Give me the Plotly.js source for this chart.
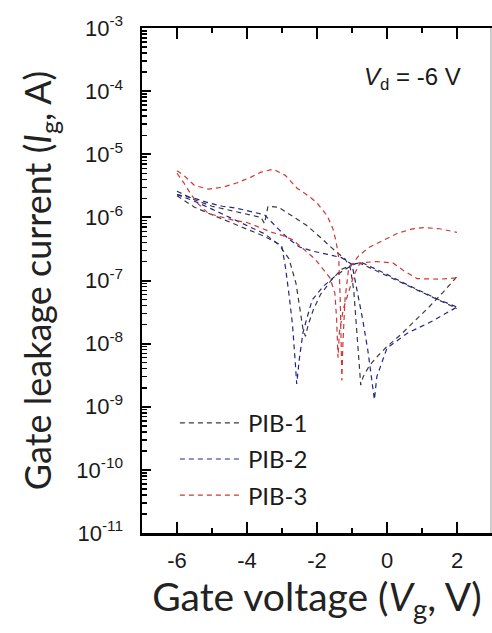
<!DOCTYPE html>
<html>
<head>
<meta charset="utf-8">
<script src="https://cdn.plot.ly/plotly-3.0.1.min.js"></script>
<style>html,body{margin:0;padding:0;background:#fff;}#chart{width:492px;height:633px;}</style>
</head>
<body>
<div id="chart"></div>
<script>
// ---- Data ----
const seriesNames = ["PIB-1", "PIB-2", "PIB-3"];

// PIB-1, sweep A (upper, dip near -0.75 V)
const vgPib1A = [-6, -5.5, -5, -4.5, -4, -3.6, -3.5, -3.4, -3.1, -2.7, -2.3, -1.9, -1.5, -1.2, -1.05, -0.95, -0.88, -0.8, -0.75, -0.68, -0.5, -0.25, 0, 0.4, 0.8, 1.2, 1.6, 2];
const igPib1A = [2.6e-6, 1.9e-6, 1.5e-6, 1.3e-6, 1.15e-6, 1.0e-6, 8e-7, 1.5e-6, 1.45e-6, 1.05e-6, 7.5e-7, 4.8e-7, 3e-7, 2.2e-7, 1.6e-7, 7e-8, 2e-8, 4e-9, 2.2e-9, 3e-9, 4.5e-9, 6.5e-9, 9e-9, 1.4e-8, 2.3e-8, 3.8e-8, 6.5e-8, 1.15e-7];
// PIB-1, sweep B (lower, dip near -2.33 V)
const vgPib1B = [-6, -5.5, -5, -4.5, -4, -3.5, -3.1, -2.8, -2.6, -2.5, -2.4, -2.33, -2.25, -2.1, -1.9, -1.6, -1.3, -1.0, -0.8, -0.5, 0, 0.5, 1, 1.5, 2];
const igPib1B = [2.2e-6, 1.45e-6, 1.1e-6, 8.5e-7, 6.5e-7, 5e-7, 3.8e-7, 2.2e-7, 9e-8, 4e-8, 1.7e-8, 1.3e-8, 2e-8, 3.5e-8, 6e-8, 1e-7, 1.5e-7, 1.8e-7, 1.9e-7, 1.6e-7, 1.2e-7, 8.8e-8, 6.5e-8, 4.8e-8, 3.6e-8];

// PIB-2, sweep A (dip near -2.6 V)
const vgPib2A = [-6, -5.5, -5, -4.5, -4, -3.5, -3.0, -2.9, -2.8, -2.7, -2.62, -2.58, -2.5, -2.4, -2.25, -2.14, -1.83, -1.5, -1.2, -0.9, -0.7, -0.4, 0, 0.5, 1, 1.5, 2];
const igPib2A = [2.3e-6, 1.8e-6, 1.35e-6, 1.0e-6, 7.5e-7, 5.5e-7, 3.4e-7, 1.6e-7, 6e-8, 2e-8, 5e-9, 2.3e-9, 6e-9, 1.5e-8, 3e-8, 4.9e-8, 8e-8, 1.15e-7, 1.5e-7, 1.85e-7, 1.9e-7, 1.6e-7, 1.25e-7, 9e-8, 6.6e-8, 4.9e-8, 3.8e-8];
// PIB-2, sweep B (dip near -0.36 V)
const vgPib2B = [-6, -5.5, -5.1, -4.7, -4.3, -3.9, -3.5, -3.1, -2.8, -2.5, -2.1, -1.7, -1.3, -1.0, -0.83, -0.7, -0.55, -0.42, -0.36, -0.29, -0.15, 0, 0.57, 1.31, 2];
const igPib2B = [2.3e-6, 2.0e-6, 1.7e-6, 1.5e-6, 1.4e-6, 1.25e-6, 1.1e-6, 6.5e-7, 4.5e-7, 3.4e-7, 2.9e-7, 2.6e-7, 2.3e-7, 1.8e-7, 6.3e-8, 2.5e-8, 8e-9, 2.5e-9, 1.3e-9, 3e-9, 5e-9, 8.5e-9, 1.45e-8, 2.3e-8, 3.8e-8];

// PIB-3, sweep A (upper, peak near -3.25 V, dip near -1.29 V)
const vgPib3A = [-6, -5.8, -5.5, -5.1, -4.7, -4.3, -3.9, -3.6, -3.25, -2.9, -2.57, -2.25, -2.0, -1.71, -1.54, -1.45, -1.38, -1.34, -1.31, -1.29, -1.26, -1.2, -1.1, -0.8, -0.49, 0, 0.3, 0.7, 1.03, 1.5, 2];
const igPib3A = [5.5e-6, 4.6e-6, 3.2e-6, 2.8e-6, 3.0e-6, 3.5e-6, 4.3e-6, 5.2e-6, 5.8e-6, 4.6e-6, 2.9e-6, 2.2e-6, 1.7e-6, 1.06e-6, 6.5e-7, 4e-7, 2.3e-7, 6e-8, 1e-8, 2.6e-9, 1e-8, 5e-8, 1.5e-7, 2.5e-7, 3.4e-7, 4.6e-7, 5.6e-7, 6.5e-7, 6.9e-7, 6.6e-7, 5.8e-7];
// PIB-3, sweep B (lower, dip near -1.4 V)
const vgPib3B = [-6, -5.8, -5.6, -5.4, -5.1, -4.34, -4.0, -3.29, -3.0, -2.69, -2.06, -1.63, -1.49, -1.44, -1.4, -1.36, -1.25, -1.11, -0.95, -0.77, -0.3, 0.17, 0.46, 0.86, 1.5, 2];
const igPib3B = [5e-6, 3.5e-6, 2.3e-6, 1.65e-6, 1.15e-6, 8.9e-7, 8.3e-7, 5.8e-7, 5.2e-7, 4.4e-7, 2.2e-7, 1.1e-7, 6.3e-8, 2.5e-8, 6e-9, 1.5e-8, 3.5e-8, 6e-8, 1.2e-7, 1.9e-7, 2e-7, 1.9e-7, 1.45e-7, 1.07e-7, 1.05e-7, 1.1e-7];

// Axis ticks
const xTickVals = [-6, -4, -2, 0, 2];
const xTickText = ["-6", "-4", "-2", "0", "2"];
const yTickVals = [1e-11, 1e-10, 1e-9, 1e-8, 1e-7, 1e-6, 1e-5, 1e-4, 1e-3];
const yTickText = ["10<sup>-11</sup>", "10<sup>-10</sup>", "10<sup>-9</sup>", "10<sup>-8</sup>", "10<sup>-7</sup>", "10<sup>-6</sup>", "10<sup>-5</sup>", "10<sup>-4</sup>", "10<sup>-3</sup>"];

// ---- Styling ----
const colors = ["#3a3a3a", "#24248c", "#cc3838"];
const dashStyle = "5px,4px";

function sweep(x, y, idx, showLegend) {
  return {
    x: x, y: y, type: "scatter", mode: "lines",
    name: seriesNames[idx], legendgroup: seriesNames[idx], showlegend: showLegend,
    line: {color: colors[idx], width: 1.2, dash: dashStyle},
    hoverinfo: "skip"
  };
}

const traces = [
  sweep(vgPib1A, igPib1A, 0, true),
  sweep(vgPib1B, igPib1B, 0, false),
  sweep(vgPib2A, igPib2A, 1, true),
  sweep(vgPib2B, igPib2B, 1, false),
  sweep(vgPib3A, igPib3A, 2, true),
  sweep(vgPib3B, igPib3B, 2, false)
];

const titleFamily = "Lato, 'Open Sans', sans-serif";
const tickFont = {family: "'Liberation Sans', Arial, sans-serif", size: 22, color: "#1a1a1a"};

const layout = {
  width: 492, height: 633,
  margin: {l: 142, r: 0, t: 28, b: 100, pad: 0},
  paper_bgcolor: "#fff", plot_bgcolor: "#fff",
  showlegend: true,
  legend: {
    x: 0.094, y: 0.262, xanchor: "left", yanchor: "top",
    font: {family: titleFamily, size: 24, color: "#1a1a1a"},
    bgcolor: "rgba(0,0,0,0)", borderwidth: 0,
    itemwidth: 63, tracegroupgap: 2
  },
  xaxis: {
    type: "linear", range: [-7, 3],
    tickmode: "array", tickvals: xTickVals, ticktext: xTickText,
    ticks: "inside", ticklen: 11, tickwidth: 2, tickcolor: "#000",
    minor: {tickmode: "linear", tick0: -7, dtick: 1, ticks: "inside", ticklen: 5, tickwidth: 2, tickcolor: "#000"},
    showline: true, linecolor: "#000", linewidth: 2.5, mirror: "allticks",
    showgrid: false, zeroline: false,
    tickfont: tickFont, ticklabelstandoff: 6,
    title: {text: "Gate voltage (<i>V</i><sub>g</sub>, V)", font: {family: titleFamily, size: 39, color: "#222"}, standoff: 8}
  },
  yaxis: {
    type: "log", range: [-11, -3],
    tickmode: "array", tickvals: yTickVals, ticktext: yTickText,
    ticks: "inside", ticklen: 9, tickwidth: 2, tickcolor: "#000",
    minor: {dtick: "D1", ticks: "inside", ticklen: 5, tickwidth: 1.5, tickcolor: "#000"},
    showline: true, linecolor: "#000", linewidth: 2.5, mirror: false,
    showgrid: false, zeroline: false,
    tickfont: tickFont, ticklabelstandoff: 12,
    title: {text: "Gate leakage current (<i>I</i><sub>g</sub>, A)", font: {family: titleFamily, size: 36, color: "#222"}, standoff: 14}
  },
  shapes: [
    {type: "line", xref: "paper", yref: "paper", x0: 0.997, x1: 0.997, y0: 0, y1: 1,
     line: {color: "#999", width: 1}}
  ],
  annotations: [
    {xref: "paper", yref: "paper", x: 0.774, y: 0.9, xanchor: "center", yanchor: "middle",
     text: "<i>V</i><sub>d</sub> = -6 V", showarrow: false,
     font: {family: "'Liberation Sans', Arial, sans-serif", size: 24, color: "#1a1a1a"}}
  ]
};

Plotly.newPlot("chart", traces, layout, {staticPlot: true, displayModeBar: false});
</script>
</body>
</html>
